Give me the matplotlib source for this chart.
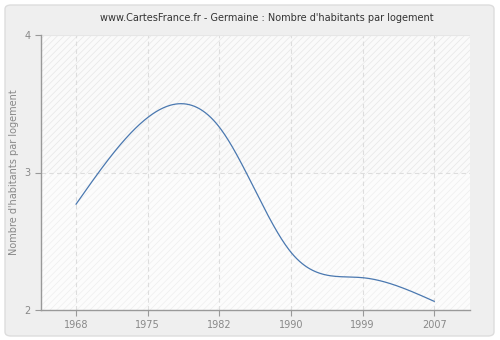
import numpy as np
import matplotlib
matplotlib.use("Agg")
import matplotlib.pyplot as plt
from matplotlib.patches import FancyBboxPatch, Rectangle

years = ["1968", "1975", "1982", "1990", "1999", "2007"]
values = [2.77, 3.40, 3.33, 2.42, 2.235, 2.063]
yticks = [2, 3, 4]
title = "www.CartesFrance.fr - Germaine : Nombre d'habitants par logement"
ylabel = "Nombre d'habitants par logement"


def natural_spline(x, y, xs):
    x = np.asarray(x, float)
    y = np.asarray(y, float)
    n = len(x)
    h = np.diff(x)
    A = np.zeros((n, n))
    b = np.zeros(n)
    A[0, 0] = 1
    A[-1, -1] = 1
    for i in range(1, n - 1):
        A[i, i - 1] = h[i - 1]
        A[i, i] = 2 * (h[i - 1] + h[i])
        A[i, i + 1] = h[i]
        b[i] = 3 * ((y[i + 1] - y[i]) / h[i] - (y[i] - y[i - 1]) / h[i - 1])
    c = np.linalg.solve(A, b)
    out = np.empty_like(xs)
    for k, xv in enumerate(xs):
        i = min(np.searchsorted(x, xv, side="right") - 1, n - 2)
        i = max(i, 0)
        dx = xv - x[i]
        bb = (y[i + 1] - y[i]) / h[i] - h[i] * (2 * c[i] + c[i + 1]) / 3
        d = (c[i + 1] - c[i]) / (3 * h[i])
        out[k] = y[i] + bb * dx + c[i] * dx ** 2 + d * dx ** 3
    return out


plt.rcParams["hatch.linewidth"] = 0.5
fig = plt.figure(figsize=(5, 3.4), dpi=100)
fig.patch.set_facecolor("white")
panel = FancyBboxPatch((5 / 500, 4 / 340), 489 / 500, 331 / 340,
                       boxstyle="round,pad=0,rounding_size=0.012",
                       transform=fig.transFigure, facecolor="#efefef",
                       edgecolor="#dddddd", linewidth=1.0, zorder=-10)
fig.patches.append(panel)

ax = fig.add_axes([41 / 500, 1 - 310 / 340, 429 / 500, 275 / 340])
ax.set_zorder(1)
ax.set_facecolor("none")
x = np.arange(len(years))
ax.set_xlim(-0.49, len(years) - 0.5)
ax.set_ylim(2, 4)

# background bands with diagonal hatching
ax.add_patch(Rectangle((-0.49, 3), 6, 1, facecolor="#fafafa", edgecolor="#e6e6e6",
                       hatch="/////", linewidth=0, zorder=0))
ax.add_patch(Rectangle((-0.49, 2), 6, 1, facecolor="#fcfcfc", edgecolor="#eeeeee",
                       hatch="/////", linewidth=0, zorder=0))

for xi in x:
    ax.axvline(xi, color="#dddddd", linestyle=(0, (4, 3)), linewidth=0.8, zorder=1)
ax.axhline(3, color="#dddddd", linestyle=(0, (4, 3)), linewidth=0.8, zorder=1)
ax.axhline(4, color="#e6e6e6", linewidth=0.8, zorder=1)

xs = np.linspace(0, len(years) - 1, 400)
ax.plot(xs, natural_spline(x, values, xs), color="#4a78b0", linewidth=0.9, zorder=3)

ax.set_xticks(x)
ax.set_xticklabels(years)
ax.set_yticks(yticks)
ax.set_yticklabels([str(t) for t in yticks])
for s in ["top", "right"]:
    ax.spines[s].set_visible(False)
for s in ["left", "bottom"]:
    ax.spines[s].set_color("#999999")
    ax.spines[s].set_linewidth(1.0)
ax.tick_params(colors="#999999", labelcolor="#888888", labelsize=7, length=4, width=0.8)
fig.text(14 / 500, 1 - 172 / 340, ylabel, rotation=90, ha="center", va="center",
         fontsize=7, color="#888888")
fig.text(267 / 500, 1 - 18 / 340, title, ha="center", va="center", fontsize=7, color="#333333")

fig.savefig("out.png", dpi=100, facecolor=fig.get_facecolor())
